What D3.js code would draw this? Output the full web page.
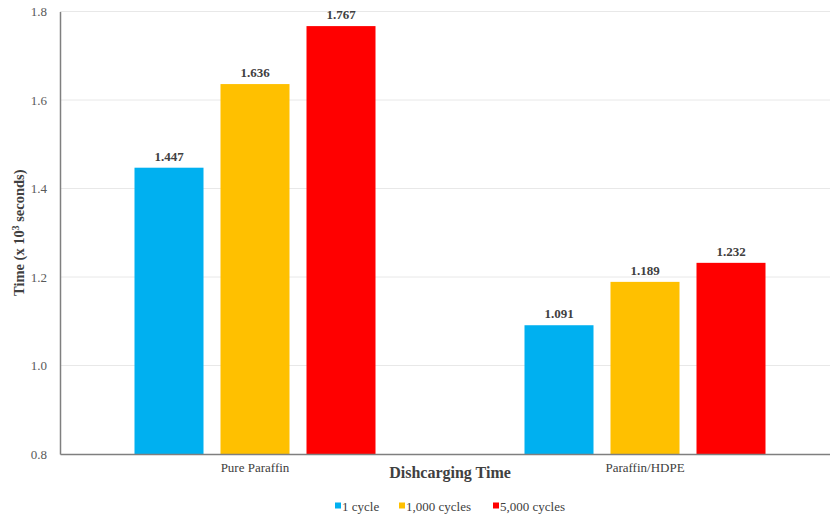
<!DOCTYPE html>
<html><head><meta charset="utf-8">
<script src="https://cdn.jsdelivr.net/npm/d3@7"></script>
<style>html,body{margin:0;padding:0;background:#fff;overflow:hidden}
svg text{font-family:"Liberation Serif","Times New Roman",Times,"DejaVu Serif",serif;}</style>
</head><body>
<svg id="c" width="830" height="519"></svg>
<script>
const categories = ["Pure Paraffin", "Paraffin/HDPE"];
const seriesNames = ["1 cycle", "1,000 cycles", "5,000 cycles"];
const cycle1 = [1.447, 1.091];
const cycles1000 = [1.636, 1.189];
const cycles5000 = [1.767, 1.232];
const yTicks = [0.8, 1.0, 1.2, 1.4, 1.6, 1.8];
const colors = ["#00B0F0", "#FFC000", "#FF0000"];
const seriesValues = [cycle1, cycles1000, cycles5000];

const svg = d3.select("#c");
const plotLeft = 60, plotRight = 840, plotTop = 11.5, plotBottom = 454;

const x0 = d3.scaleBand().domain(categories).range([plotLeft, plotRight]).padding(0);
const x1 = d3.scaleBand().domain(seriesNames).range([74.5, 315.5]).paddingInner(17/86).paddingOuter(0);
const y = d3.scaleLinear().domain([0.8, 1.8]).range([plotBottom, plotTop]);

// gridlines
svg.append("g").selectAll("line").data(yTicks.slice(1)).join("line")
  .attr("x1", plotLeft).attr("x2", plotRight)
  .attr("y1", d => y(d)).attr("y2", d => y(d))
  .attr("stroke", "#e8e8e8").attr("stroke-width", 1);

// bars
const groups = svg.append("g").selectAll("g").data(categories).join("g")
  .attr("transform", c => `translate(${x0(c)},0)`);
groups.each(function(c, ci) {
  const g = d3.select(this);
  seriesNames.forEach((s, si) => {
    const v = seriesValues[si][ci];
    g.append("rect").attr("x", x1(s)).attr("width", x1.bandwidth())
      .attr("y", y(v)).attr("height", y(0.8) - y(v)).attr("fill", colors[si]);
    g.append("text").attr("x", x1(s) + x1.bandwidth()/2).attr("y", y(v) - 7)
      .attr("text-anchor", "middle").attr("font-weight", "bold")
      .attr("font-size", 13).attr("fill", "#404040").text(v.toFixed(3));
  });
});

// y axis
const yAxis = d3.axisLeft(y).tickValues(yTicks).tickFormat(d3.format(".1f")).tickSize(0).tickPadding(13);
const ya = svg.append("g").attr("transform", `translate(${plotLeft},0)`).call(yAxis);
ya.attr("font-family", null);
ya.select(".domain").attr("stroke", "#7f7f7f").attr("stroke-width", 1.5);
ya.selectAll("text").attr("font-size", 13).attr("fill", "#595959");

// x axis
const xAxis = d3.axisBottom(x0).tickSize(0).tickPadding(9);
const xa = svg.append("g").attr("transform", `translate(0,${plotBottom})`).call(xAxis);
xa.attr("font-family", null);
xa.select(".domain").attr("stroke", "#7f7f7f").attr("stroke-width", 1.5);
xa.selectAll("text").attr("font-size", 13).attr("fill", "#404040");

// axis titles
svg.append("text").attr("x", (plotLeft + plotRight)/2).attr("y", 478).attr("text-anchor", "middle")
  .attr("font-weight", "bold").attr("font-size", 16).attr("fill", "#404040")
  .text("Dishcarging Time");
const yt = svg.append("text").attr("transform", `translate(24,${(plotTop+plotBottom)/2}) rotate(-90)`)
  .attr("text-anchor", "middle").attr("font-weight", "bold")
  .attr("font-size", 14.5).attr("fill", "#404040");
yt.append("tspan").text("Time (x 10");
yt.append("tspan").attr("font-size", 9.5).attr("dy", -5).text("3");
yt.append("tspan").attr("dy", 5).text(" seconds)");

// legend
const legendX = [335, 399, 493];
const lg = svg.append("g");
seriesNames.forEach((s, i) => {
  lg.append("rect").attr("x", legendX[i]).attr("y", 502.5).attr("width", 6).attr("height", 6).attr("fill", colors[i]);
  lg.append("text").attr("x", legendX[i] + 7).attr("y", 511)
    .attr("font-size", 13).attr("fill", "#404040").text(s);
});
</script>
</body></html>
